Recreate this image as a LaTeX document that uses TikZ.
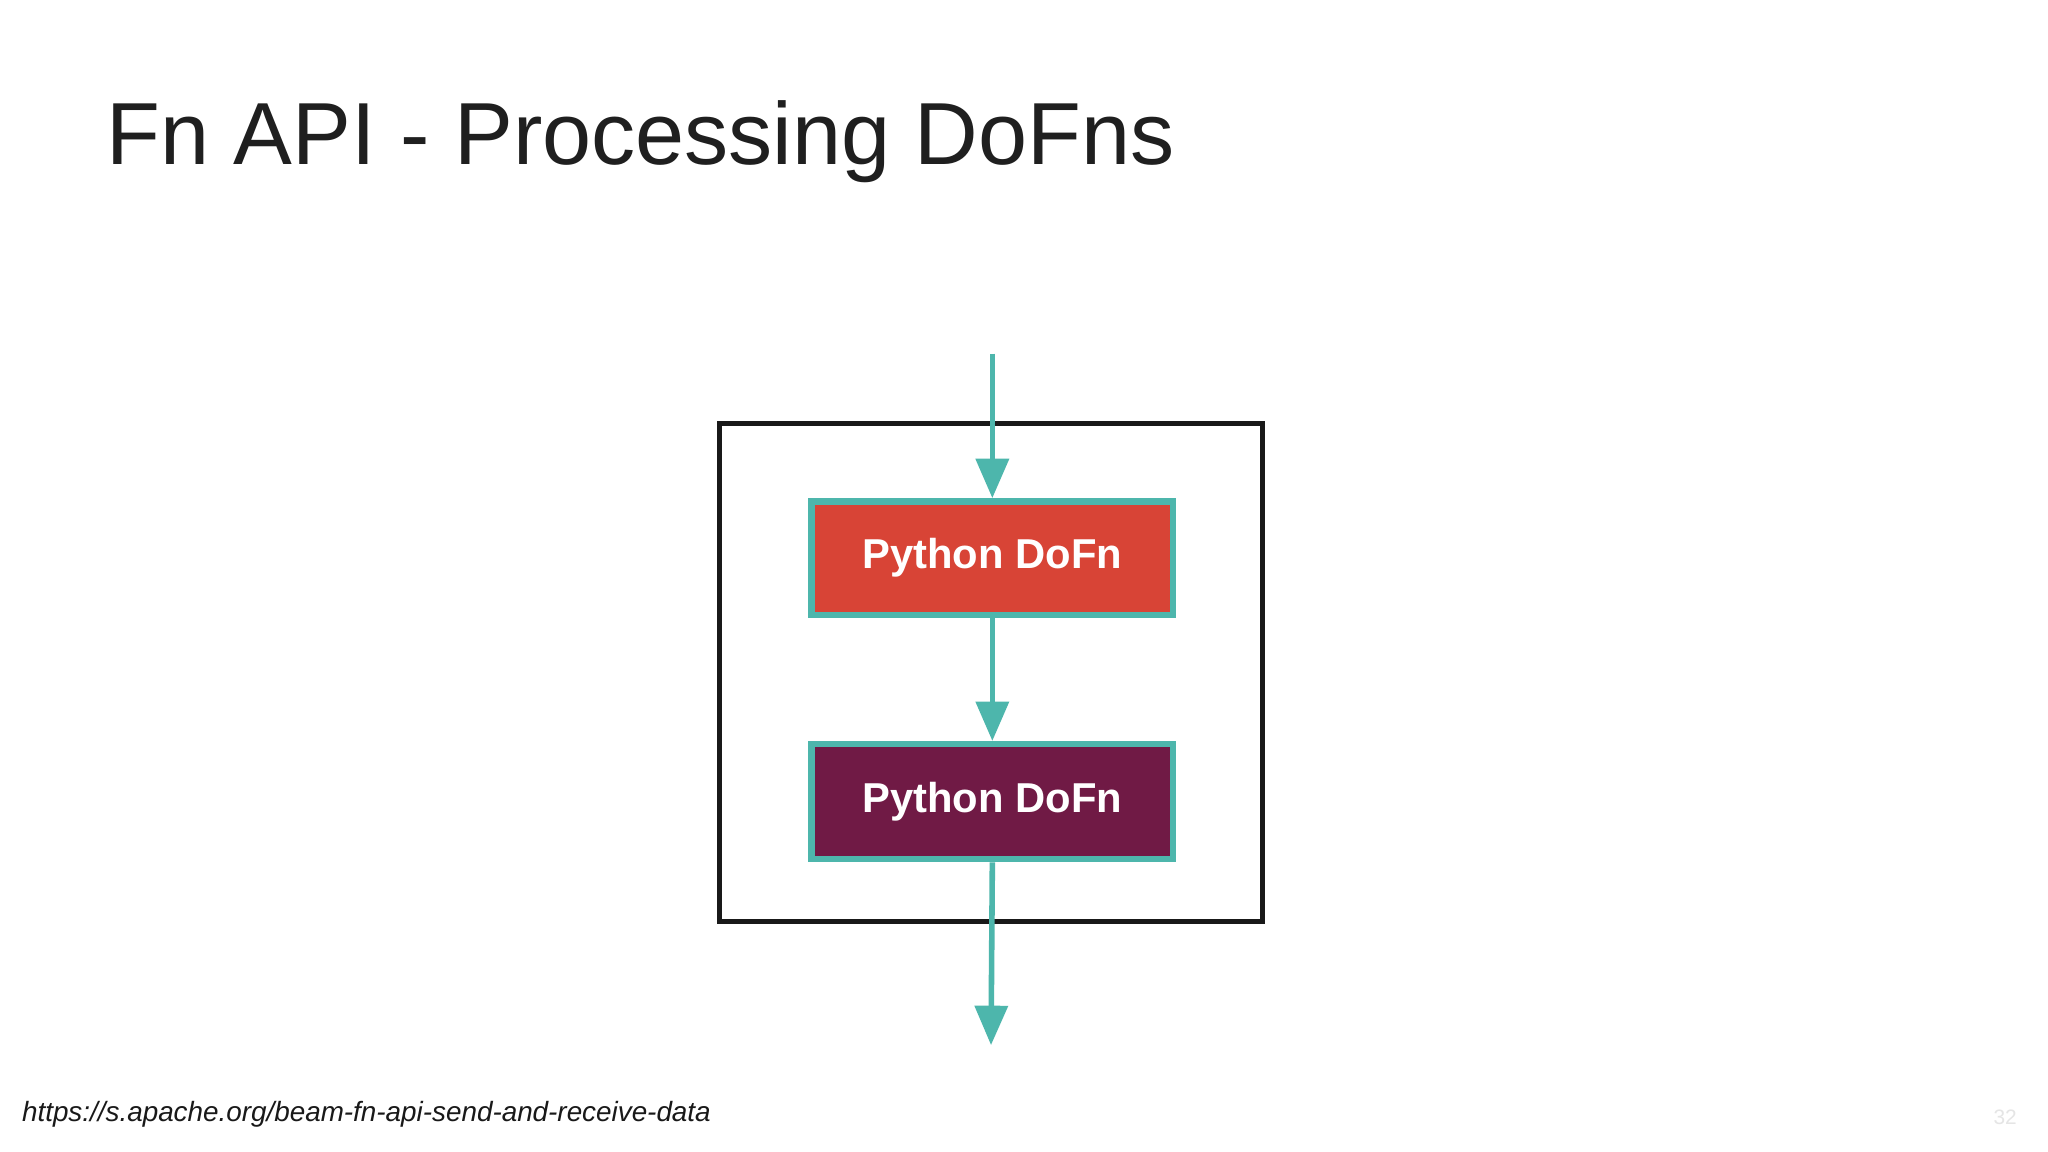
\documentclass[tikz,border=0pt]{standalone}
\usepackage{fontspec}
\setmainfont{Liberation Sans}
\usetikzlibrary{arrows.meta}
\definecolor{teal1}{HTML}{4DB6AC}
\definecolor{redf}{HTML}{D84436}
\definecolor{purf}{HTML}{701A45}
\begin{document}
\begin{tikzpicture}[x=0.01cm,y=-0.01cm,
  box/.style={draw=teal1,line width=1.4pt,minimum width=278\pgflinewidth,inner sep=0pt,text=white,font=\fontsize{9}{10}\selectfont\bfseries},
  flow/.style={draw=teal1,line width=1.2pt,-{Triangle[length=8.5pt,width=7pt]}}]
\useasboundingbox[fill=white] (0,0) rectangle (1552,873);
\node[anchor=base west,inner sep=0pt,font=\fontsize{19}{22}\selectfont,text=black!88] (title) at (80,125) {Fn API - Processing DoFns};
\draw[line width=1.1pt,black!90] (545,321) rectangle (957,698);
\node[box,fill=redf,minimum width=2.74cm,minimum height=0.86cm] (a) at (752,423) {Python DoFn};
\node[box,fill=purf,minimum width=2.74cm,minimum height=0.87cm] (b) at (752,607.5) {Python DoFn};
\coordinate (in) at (752,268);
\coordinate (out) at (751,792);
\draw[flow] (in) -- (a.north);
\draw[flow] (a.south) -- (b.north);
\draw[flow] (b.south) -- (out);
\node[anchor=base west,inner sep=0pt,font=\fontsize{6}{7}\selectfont\itshape,text=black!90] (url) at (16,850) {https://s.apache.org/beam-fn-api-send-and-receive-data};
\node[anchor=base east,inner sep=0pt,font=\fontsize{4.5}{5}\selectfont,text=black!10] (pg) at (1529,852) {32};
\end{tikzpicture}
\end{document}
